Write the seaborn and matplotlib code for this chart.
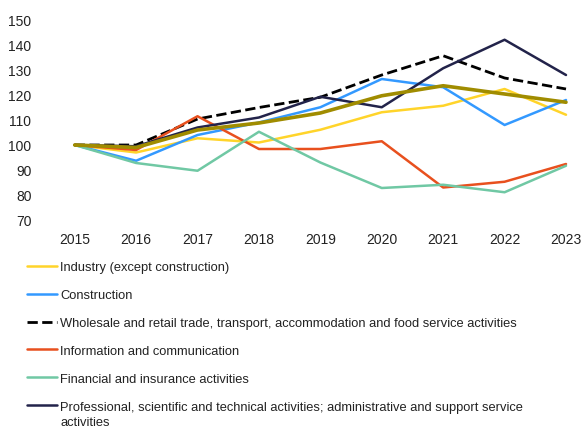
import matplotlib
matplotlib.use('Agg')
import matplotlib.pyplot as plt
from matplotlib.offsetbox import HPacker, TextArea
import seaborn as sns
import pandas as pd

years = [2015, 2016, 2017, 2018, 2019, 2020, 2021, 2022, 2023]

industry = [100, 97.0, 102.7, 101.0, 106.1, 113.1, 115.7, 122.4, 112.1]
construction = [100, 93.7, 104.0, 109.0, 115.1, 126.4, 123.1, 108.0, 118.0]
wholesale = [100, 100.0, 110.4, 115.0, 119.1, 128.0, 135.7, 126.8, 122.4]
info_comm = [100, 98.0, 111.5, 98.4, 98.4, 101.5, 83.0, 85.3, 92.4]
financial = [100, 92.8, 89.7, 105.3, 93.0, 82.8, 84.1, 81.1, 91.7]
professional = [100, 99.5, 107.0, 111.0, 119.3, 115.1, 130.7, 142.1, 128.0]
total = [100, 99.0, 106.0, 108.8, 112.8, 119.7, 123.7, 120.4, 117.1]

labels = [
    "Industry (except construction)",
    "Construction",
    "Wholesale and retail trade, transport, accommodation and food service activities",
    "Information and communication",
    "Financial and insurance activities",
    "Professional, scientific and technical activities; administrative and support service\nactivities",
]
colors = ["#ffd42a", "#3399ff", "#000000", "#e8501e", "#70c8a4", "#22234a"]
series = [industry, construction, wholesale, info_comm, financial, professional]

sns.set_style("white")
plt.rcParams['font.family'] = ['Liberation Sans', 'DejaVu Sans']

fig = plt.figure(figsize=(5.85, 4.31), dpi=100)
ax = fig.add_axes([44 / 585, 1 - 221 / 431, (566 - 44) / 585, 200 / 431])

handles = []
for vals, lab, col in zip(series, labels, colors):
    df = pd.DataFrame({"year": years, "value": vals})
    ls = "--" if col == "#000000" else "-"
    lw = 2.0 if col == "#000000" else 1.8
    sns.lineplot(data=df, x="year", y="value", ax=ax, color=col, lw=lw,
                 linestyle=ls, clip_on=False, zorder=3)
    handles.append(ax.lines[-1])

df_total = pd.DataFrame({"year": years, "value": total})
sns.lineplot(data=df_total, x="year", y="value", ax=ax, color="#a08c00",
             lw=2.6, clip_on=False, zorder=4)

ax.set_xlim(2014.5, 2023)
ax.set_ylim(70, 150)
ax.set_yticks(range(70, 151, 10))
ax.set_xticks(years)
ax.set_xlabel("")
ax.set_ylabel("")
ax.tick_params(axis="both", labelsize=10, colors="#222222", length=0)
ax.tick_params(axis="x", pad=8.5)
ax.tick_params(axis="y", pad=9)
for s in ax.spines.values():
    s.set_visible(False)
ax.grid(False)

leg = fig.legend(handles, labels, loc="upper left",
                 bbox_to_anchor=(22 / 585, 1 - 257 / 431), frameon=False,
                 fontsize=9.3, handlelength=2.3, handletextpad=0.25,
                 labelspacing=1.23, borderaxespad=0)
for t in leg.get_texts():
    t.set_color("#222222")
    if "\n" in t.get_text():
        t.set_linespacing(1.3)

# keep the handle of the wrapped entry on its first line
for hp in leg.findobj(HPacker):
    kids = hp.get_children()
    if any(isinstance(k, TextArea) and "\n" in k.get_text() for k in kids):
        hp.align = "top"

fig.savefig("out.png", dpi=100)
